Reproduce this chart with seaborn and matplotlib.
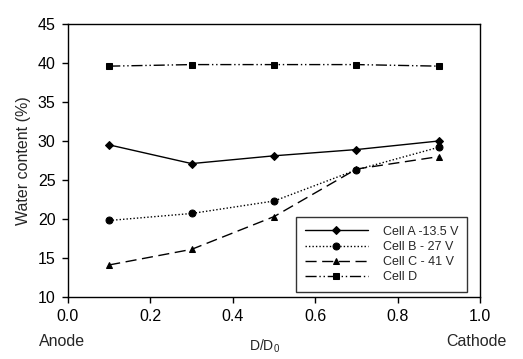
import matplotlib
matplotlib.use("Agg")
import matplotlib.pyplot as plt
import seaborn as sns
import pandas as pd

x_pos = [0.1, 0.3, 0.5, 0.7, 0.9]
cell_a = [29.5, 27.1, 28.1, 28.9, 30.0]
cell_b = [19.8, 20.7, 22.3, 26.3, 29.2]
cell_c = [14.1, 16.1, 20.3, 26.4, 28.0]
cell_d = [39.6, 39.8, 39.8, 39.8, 39.6]
labels = ["Cell A -13.5 V", "Cell B - 27 V", "Cell C - 41 V", "Cell D"]

sns.set_theme(style="ticks")
plt.rcParams['font.family'] = ['Liberation Sans', 'DejaVu Sans']

fig = plt.figure(figsize=(5.23, 3.59), dpi=100)
ax = fig.add_axes([0.130, 0.173, 0.788, 0.760])

styles = [
    dict(ls='-', marker='D', ms=4.5),
    dict(ls=(0, (1, 1.5)), marker='o', ms=5),
    dict(ls=(0, (8, 4)), marker='^', ms=5),
    dict(ls=(0, (8, 2, 1, 2, 1, 2)), marker='s', ms=5),
]
for vals, lab, st in zip([cell_a, cell_b, cell_c, cell_d], labels, styles):
    df = pd.DataFrame({"x": x_pos, "y": vals})
    sns.lineplot(data=df, x="x", y="y", ax=ax, color='black', lw=1,
                 linestyle=st['ls'], marker=st['marker'], markersize=st['ms'],
                 markeredgecolor='black', markerfacecolor='black', label=lab)

ax.set_xlim(0, 1.0)
ax.set_ylim(10, 45)
ax.set_xticks([0, 0.2, 0.4, 0.6, 0.8, 1.0])
ax.set_xticklabels(["0.0", "0.2", "0.4", "0.6", "0.8", "1.0"])
ax.set_yticks(range(10, 46, 5))
for s in ax.spines.values():
    s.set_linewidth(1)
    s.set_color('black')
ax.tick_params(direction='out', length=4, width=1, labelsize=11.5, colors='black', pad=5)
ax.set_xlabel("")
ax.set_ylabel("Water content (%)", fontsize=11.5, labelpad=5)

ax.text(-0.015, -0.165, "Anode", transform=ax.transAxes, ha='center', va='center', fontsize=11.5)
ax.text(0.99, -0.165, "Cathode", transform=ax.transAxes, ha='center', va='center', fontsize=11.5)
ax.text(0.478, -0.18, "D/D$_\\mathregular{0}$", transform=ax.transAxes, ha='center', va='center', fontsize=10)

leg = ax.legend(loc='lower right', bbox_to_anchor=(0.968, 0.018), fontsize=9,
                frameon=True, fancybox=False, edgecolor='black', handlelength=5,
                borderpad=0.7, labelspacing=0.25, handletextpad=1.2, borderaxespad=0)
leg.get_frame().set_linewidth(1)

fig.savefig("out.png", dpi=100)
